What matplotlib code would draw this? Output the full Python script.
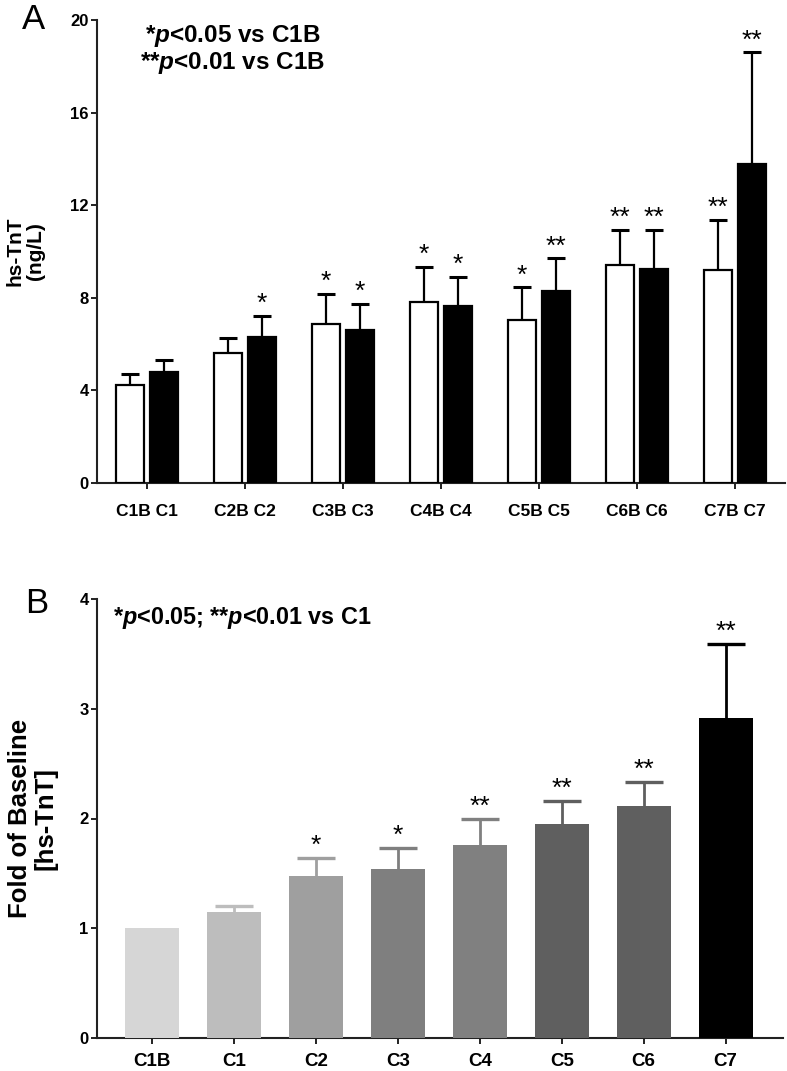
import numpy as np
import matplotlib
matplotlib.use("Agg")
import matplotlib.pyplot as plt

plt.rcParams['font.family'] = ['Liberation Sans', 'DejaVu Sans']
plt.rcParams['font.weight'] = 'bold'
plt.rcParams['mathtext.fontset'] = 'custom'
plt.rcParams['mathtext.rm'] = 'Liberation Sans:bold'
plt.rcParams['mathtext.bfit'] = 'Liberation Sans:italic:bold'
plt.rcParams['mathtext.it'] = 'Liberation Sans:italic:bold'

### Panel A data
groups_a = ['C1B C1', 'C2B C2', 'C3B C3', 'C4B C4', 'C5B C5', 'C6B C6', 'C7B C7']
base_mean = [4.25, 5.6, 6.85, 7.8, 7.05, 9.4, 9.2]
base_sem = [0.47, 0.65, 1.3, 1.55, 1.4, 1.55, 2.15]
base_sig = ['', '', '*', '*', '*', '**', '**']
post_mean = [4.8, 6.3, 6.6, 7.65, 8.3, 9.25, 13.8]
post_sem = [0.5, 0.93, 1.15, 1.25, 1.4, 1.7, 4.8]
post_sig = ['', '*', '*', '*', '**', '**', '**']

### Panel B data
groups_b = ['C1B', 'C1', 'C2', 'C3', 'C4', 'C5', 'C6', 'C7']
fold_mean = [1.0, 1.15, 1.48, 1.54, 1.76, 1.95, 2.11, 2.92]
fold_sem = [0.0, 0.055, 0.16, 0.19, 0.24, 0.21, 0.22, 0.67]
fold_sig = ['', '', '*', '*', '**', '**', '**', '**']
fold_colors = ['#d6d6d6', '#bdbdbd', '#9f9f9f', '#7f7f7f', '#808080', '#5f5f5f', '#5f5f5f', '#000000']

W, H = 787, 1071
fig = plt.figure(figsize=(W / 100, H / 100), dpi=100)

def style_axes(ax):
	for s in ['top', 'right']:
		ax.spines[s].set_visible(False)
	for s in ['left', 'bottom']:
		ax.spines[s].set_linewidth(1.5)
		ax.spines[s].set_color('#222222')
	ax.tick_params(axis='both', width=1.4, length=4, color='#222222')

def up_errorbar(ax, xs, ys, errs, color, lw, cap, capthick):
	# only the upper half of the error bar, like in Prism
	eb = ax.errorbar(xs, ys, yerr=[np.zeros(len(errs)), errs], fmt='none', ecolor=color,
		elinewidth=lw, capsize=cap, capthick=capthick, zorder=2)
	eb[1][0].set_visible(False)
	return eb

def stars(ax, xs, tops, labels, size):
	for xi, t, s in zip(xs, tops, labels):
		if s:
			ax.annotate(s, (xi, t), xytext=(0, 0), textcoords='offset points',
				ha='center', va='bottom', fontsize=size, fontweight='normal')

### Panel A
axA = fig.add_axes([97 / W, 1 - 483 / H, (785 - 97) / W, (483 - 20) / H])
x = np.arange(len(groups_a))
off = 0.175
bw = 0.29
axA.bar(x - off, base_mean, bw, color='white', edgecolor='black', linewidth=1.6, zorder=3)
axA.bar(x + off, post_mean, bw, color='black', edgecolor='black', linewidth=1.6, zorder=3)
up_errorbar(axA, x - off, base_mean, base_sem, 'black', 1.6, 6.5, 2.2)
up_errorbar(axA, x + off, post_mean, post_sem, 'black', 1.6, 6.5, 2.2)
stars(axA, x - off, np.add(base_mean, base_sem), base_sig, 19)
stars(axA, x + off, np.add(post_mean, post_sem), post_sig, 19)
axA.set_xlim(-0.51, 6.51)
axA.set_ylim(0, 20)
axA.set_yticks([0, 4, 8, 12, 16, 20])
axA.set_xticks(x)
axA.set_xticklabels(groups_a, fontsize=12.5, fontweight='bold')
axA.tick_params(axis='x', pad=11)
axA.tick_params(axis='y', labelsize=12, pad=2)
style_axes(axA)
axA.set_ylabel('hs-TnT\n(ng/L)', fontsize=15, fontweight='bold', labelpad=18, linespacing=1.1)
axA.text(0.87, 19.3, r'*$\mathbfit{p}$<0.05 vs C1B', ha='center', va='center', fontsize=17.5, fontweight='bold')
axA.text(0.87, 18.15, r'**$\mathbfit{p}$<0.01 vs C1B', ha='center', va='center', fontsize=17.5, fontweight='bold')
fig.text(22 / W, 1 - 29 / H, 'A', fontsize=25, fontweight='normal', va='baseline')

### Panel B
axB = fig.add_axes([97 / W, 1 - 1038 / H, (783 - 97) / W, (1038 - 599) / H])
xb = np.arange(len(groups_b))
axB.bar(xb, fold_mean, 0.66, color=fold_colors, zorder=3)
for xi, m, e, c in zip(xb, fold_mean, fold_sem, fold_colors):
	if e > 0:
		up_errorbar(axB, [xi], [m], [e], c, 2, 14, 2.4)
stars(axB, xb, np.add(fold_mean, fold_sem), fold_sig, 19)
axB.set_xlim(-0.67, 7.7)
axB.set_ylim(0, 4)
axB.set_yticks([0, 1, 2, 3, 4])
axB.set_xticks(xb)
axB.set_xticklabels(groups_b, fontsize=13.5, fontweight='bold')
axB.tick_params(axis='x', pad=7)
axB.tick_params(axis='y', labelsize=12, pad=2)
style_axes(axB)
axB.set_ylabel('Fold of Baseline\n[hs-TnT]', fontsize=18.5, fontweight='bold', labelpad=16, linespacing=1.05)
axB.text(-0.48, 3.83, r'*$\mathbfit{p}$<0.05; **$\mathbfit{p}$<0.01 vs C1', ha='left', va='center',
	fontsize=16.8, fontweight='bold')
fig.text(25 / W, 1 - 613 / H, 'B', fontsize=25, fontweight='normal', va='baseline')

plt.savefig('out.png', dpi=100)
